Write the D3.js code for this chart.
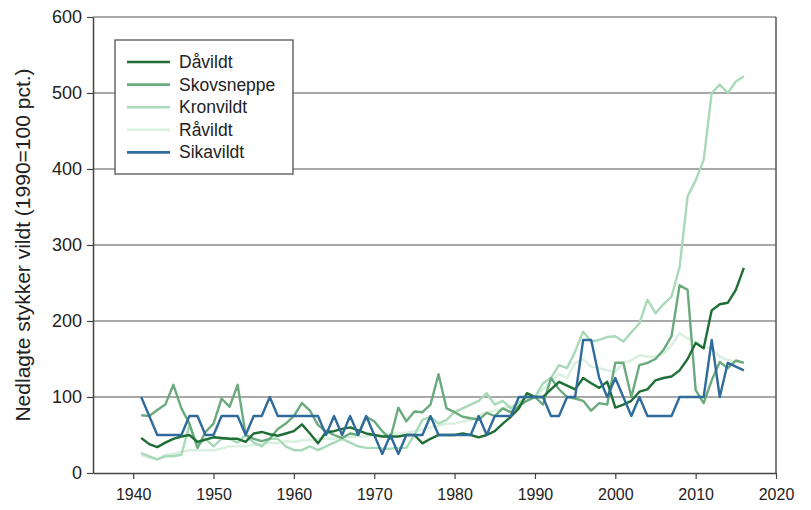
<!DOCTYPE html>
<html>
<head>
<meta charset="utf-8">
<script src="https://cdn.jsdelivr.net/npm/d3@7"></script>
<style>
  body { margin: 0; background: #fff; }
  text { font-family: "Liberation Sans", Arial, sans-serif; fill: #222; }
</style>
</head>
<body>
<svg width="811" height="510"></svg>
<script>
// years 1941-2016
var years = d3.range(1941, 2017);

var daavildt = [46,38,34,40,45,48,50,41,44,47, 46,45,45,41,52,54,51,49,52,55,
  64,52,39,54,55,58,60,56,52,50, 48,48,48,50,50,39,45,50,50,50,
  52,50,47,50,55,65,74,85,105,100, 100,110,120,115,110,125,118,112,120,86,
  90,95,107,110,122,125,127,135,150,171, 164,214,222,224,241,270];

var skovsneppe = [76,75,83,90,116,85,65,33,54,65, 98,87,116,50,45,42,45,58,65,75,
  92,82,63,55,50,46,52,50,74,68, 55,45,86,68,81,80,90,130,85,80,
  74,72,70,79,75,85,80,88,95,100, 90,125,110,100,98,95,82,92,90,145,
  145,100,142,145,150,162,180,247,241,109, 92,122,146,138,148,145];

var kronvildt = [26,22,18,22,22,24,63,35,45,35, 45,45,40,50,40,35,45,45,35,30,
  30,35,30,35,40,45,40,35,33,33, 32,32,33,33,50,70,74,65,70,80,
  85,90,95,105,90,95,85,92,100,100, 118,125,142,138,160,186,173,175,179,180,
  173,185,197,228,210,222,232,271,364,385, 412,500,511,500,515,522];

var raavildt = [24,20,18,24,25,28,30,30,30,30, 32,35,35,35,37,38,40,39,42,41,
  43,43,45,45,45,47,47,48,48,50, 50,52,52,53,55,57,60,62,65,65,
  68,70,75,80,82,85,88,92,95,100, 110,120,130,125,145,150,140,138,135,133,
  145,148,155,153,153,157,168,184,177,173, 166,164,153,149,146,146];

var sikavildt = [100,75,50,50,50,50,75,75,50,50, 75,75,75,50,75,75,100,75,75,75,
  75,75,75,50,75,50,75,50,75,50, 25,50,25,50,50,50,75,50,50,50,
  50,50,75,50,75,75,75,100,100,100, 100,75,75,100,100,175,175,125,100,125,
  100,75,100,75,75,75,75,100,100,100, 100,175,100,145,140,135];

var names = ["Dåvildt", "Skovsneppe", "Kronvildt", "Råvildt", "Sikavildt"];
var colors = ["#1f6e36", "#6aaa7c", "#a8d9b8", "#d9efe0", "#2f6b9b"];
var seriesList = [daavildt, skovsneppe, kronvildt, raavildt, sikavildt];

var xTicks = d3.range(1940, 2021, 10);
var yTicks = d3.range(0, 601, 100);

var svg = d3.select("svg");

var x = d3.scaleLinear().domain([1935, 2020]).range([93, 776]);
var y = d3.scaleLinear().domain([0, 600]).range([473, 17]);

// gridlines
svg.append("g")
  .selectAll("line")
  .data(yTicks.filter(function(d) { return d > 0 && d < 600; }))
  .enter().append("line")
    .attr("x1", x(1935)).attr("x2", x(2020))
    .attr("y1", function(d) { return y(d); })
    .attr("y2", function(d) { return y(d); })
    .attr("stroke", "#8c8c8c")
    .attr("stroke-width", 1.5);

// frame top/right
svg.append("line")
  .attr("x1", x(1935)).attr("x2", x(2020))
  .attr("y1", y(600)).attr("y2", y(600))
  .attr("stroke", "#555").attr("stroke-width", 1);
svg.append("line")
  .attr("x1", x(2020)).attr("x2", x(2020))
  .attr("y1", y(600)).attr("y2", y(0))
  .attr("stroke", "#555").attr("stroke-width", 1.5);

// lines (draw light ones first)
var line = d3.line()
  .x(function(d, i) { return x(years[i]); })
  .y(function(d) { return y(d); });

var order = [3, 2, 1, 0, 4];
order.forEach(function(k) {
  svg.append("path")
    .datum(seriesList[k])
    .attr("fill", "none")
    .attr("stroke", colors[k])
    .attr("stroke-width", 2.4)
    .attr("stroke-linejoin", "round")
    .attr("d", line);
});

// axes
var xAxis = svg.append("g")
  .attr("transform", "translate(0," + y(0) + ")")
  .call(d3.axisBottom(x).tickValues(xTicks).tickFormat(d3.format("d")).tickSize(6).tickSizeOuter(0));
var yAxis = svg.append("g")
  .attr("transform", "translate(" + x(1935) + ",0)")
  .call(d3.axisLeft(y).tickValues(yTicks).tickSize(6).tickSizeOuter(0));

[xAxis, yAxis].forEach(function(a) {
  a.select(".domain").attr("stroke", "#444").attr("stroke-width", 1.5);
  a.selectAll(".tick line").attr("stroke", "#444").attr("stroke-width", 1.2);
  a.selectAll(".tick text").attr("fill", "#222");
});
xAxis.selectAll(".tick text").style("font-size", "16px").attr("dy", "1.1em");
yAxis.selectAll(".tick text").style("font-size", "18px").attr("x", -11);

svg.append("text")
  .attr("transform", "translate(23," + y(300) + ") rotate(-90)")
  .attr("text-anchor", "middle")
  .attr("dy", "0.35em")
  .style("font-size", "21px")
  .text("Nedlagte stykker vildt (1990=100 pct.)");

// legend
var lg = svg.append("g").attr("transform", "translate(115,40)");
lg.append("rect")
  .attr("width", 178).attr("height", 134)
  .attr("fill", "#fff").attr("stroke", "#444").attr("stroke-width", 1.2);
names.forEach(function(n, i) {
  var yy = 22 + i * 22.6;
  lg.append("line")
    .attr("x1", 12).attr("x2", 55)
    .attr("y1", yy).attr("y2", yy)
    .attr("stroke", colors[i]).attr("stroke-width", 2.6);
  lg.append("text")
    .attr("x", 64).attr("y", yy + 6)
    .style("font-size", "17.5px")
    .text(n);
});
</script>
</body>
</html>
